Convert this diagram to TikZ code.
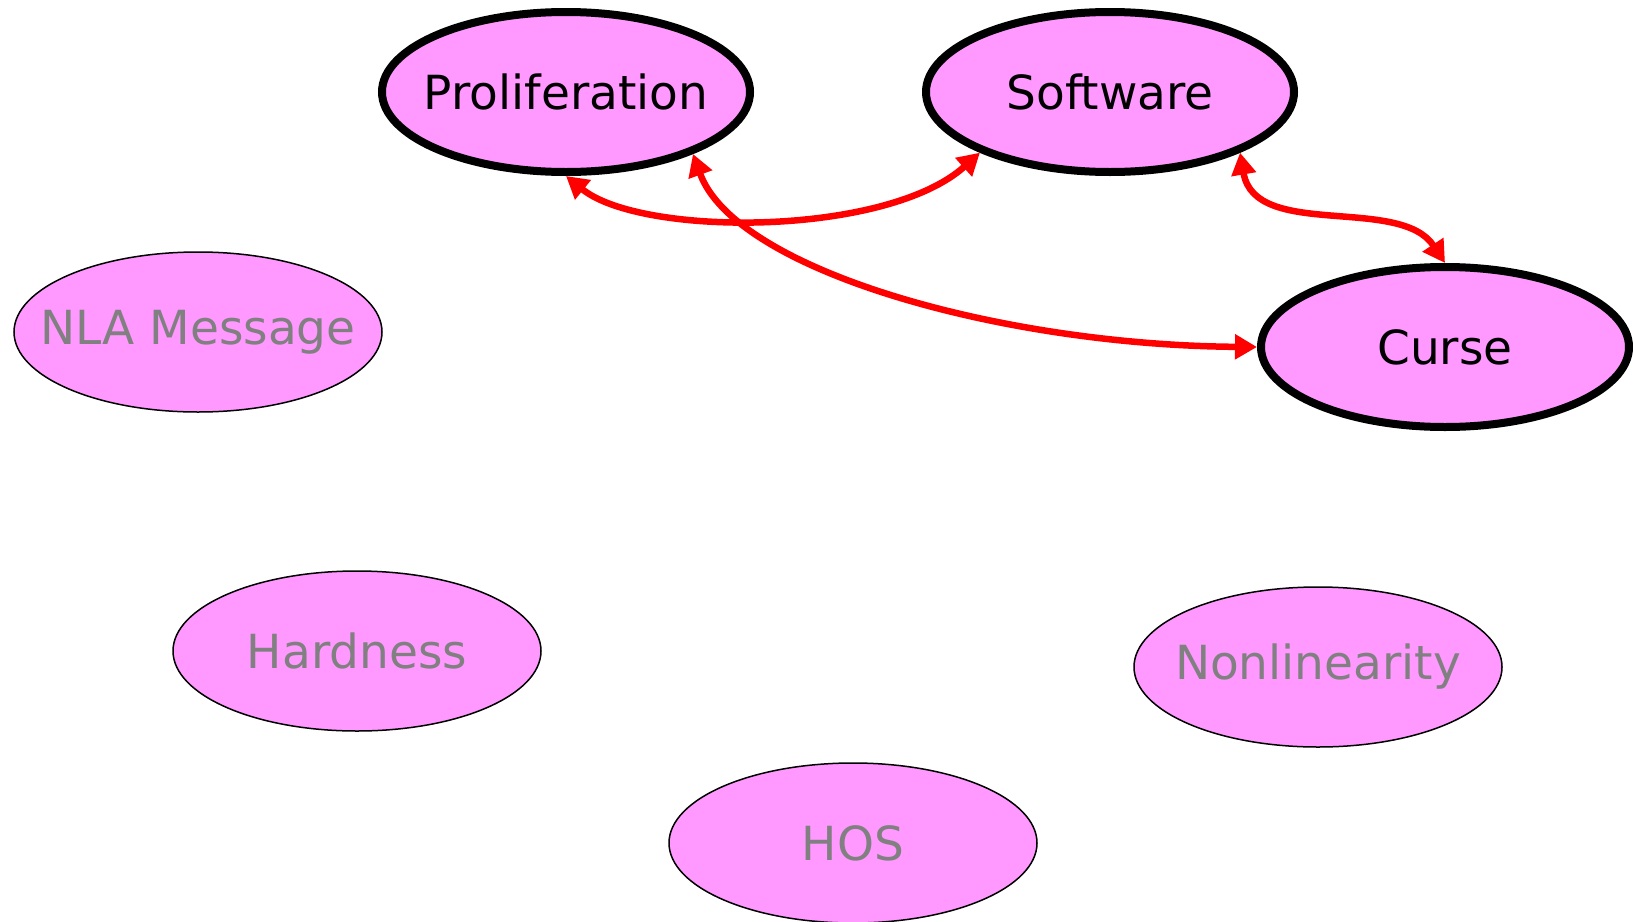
\documentclass[tikz,border=0pt]{standalone}
\usepackage{fontspec}
\setmainfont{DejaVu Sans}
\usetikzlibrary{shapes.geometric,arrows.meta}
\definecolor{bubblepink}{RGB}{255,153,255}
\definecolor{mutedgrey}{RGB}{128,128,128}
\begin{document}
\begin{tikzpicture}[x=1pt,y=-1pt,
    bubble/.style ={ellipse, draw, fill=bubblepink, line width=1.5pt, inner ysep=0pt,
      inner xsep=-120pt, minimum width=368pt, minimum height=160pt, text=mutedgrey,
      font=\fontsize{47}{56}\selectfont},
    hotbubble/.style ={bubble, line width=8pt, text=black},
    link/.style ={draw=red, line width=6.5pt, {Triangle[length=22pt,width=24pt]}-{Triangle[length=22pt,width=24pt]}}]
   \useasboundingbox (0,0) rectangle (1633,921);
   \node[hotbubble] (prolif)  at (566,92)   {Proliferation};
   \node[hotbubble] (soft)    at (1110,92)  {Software};
   \node[hotbubble] (curse)   at (1445,347) {Curse};
   \node[bubble]    (nla)     at (198,332)  {NLA Message};
   \node[bubble]    (hard)    at (357,651)  {Hardness};
   \node[bubble]    (nonlin)  at (1318,667) {Nonlinearity};
   \node[bubble]    (hos)     at (853,843)  {HOS};

   \draw[link] (prolif.south) .. controls (641,237) and (886,237) .. (soft.205);
   \draw[link] (prolif.-26) .. controls (735,270) and (1000,345) .. (curse.west);
   \draw[link] (soft.-25) .. controls (1255,240) and (1400,195) .. (curse.north);
\end{tikzpicture}
\end{document}
